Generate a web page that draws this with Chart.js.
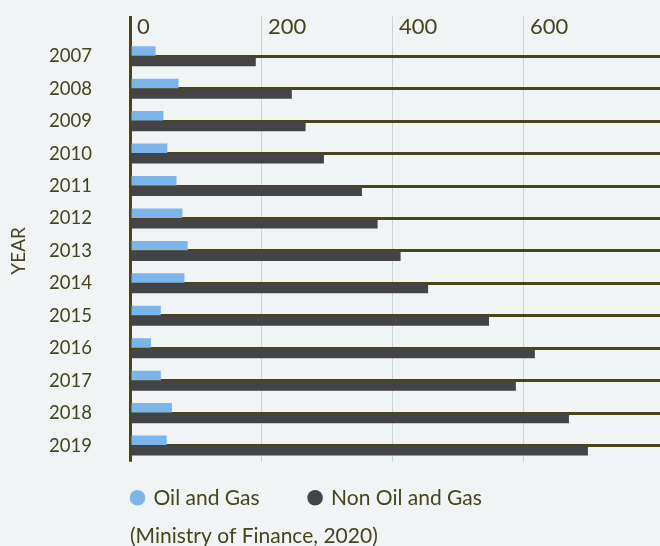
<!DOCTYPE html>
<html>
<head>
<meta charset="utf-8">
<script src="https://cdn.jsdelivr.net/npm/chart.js@4"></script>
<style>
  html, body { margin: 0; padding: 0; background: #f0f4f5; overflow: hidden; }
  #wrap { position: relative; width: 660px; height: 549px; }
</style>
</head>
<body>
<div id="wrap"><canvas id="exportChart"></canvas></div>
<script>
// ============================================================
// DATA
// ============================================================
const years      = ['2007','2008','2009','2010','2011','2012','2013','2014','2015','2016','2017','2018','2019'];
const oilGas     = [39, 74, 51, 57, 71, 80, 88, 83, 47, 32, 47, 64, 56];
const nonOilGas  = [192, 247, 268, 296, 354, 378, 413, 455, 548, 618, 589, 670, 699];
const xTicks     = [0, 200, 400, 600];

const OLIVE   = '#4a4518';
const TEXT    = '#47431f';
const GRID    = '#c7d2db';
const FONT    = 'Lato';

// legend sits under the plot, starting at the axis line
const LEGEND_PAD = 50;
const LEGEND_FS  = 21;
const legendShift = {
  id: 'legendShift',
  afterLayout(chart) {
    const lg = chart.legend;
    if (!lg) return;
    const x0 = chart.chartArea.left + 2 - LEGEND_PAD;
    const y0 = chart.chartArea.bottom + 36 - LEGEND_FS / 2 - LEGEND_PAD;
    lg.left = x0; lg.right = x0 + lg.width;
    lg.top = y0;  lg.bottom = y0 + lg.height + 40;
  }
};

const ctx = document.getElementById('exportChart');
new Chart(ctx, {
  type: 'bar',
  data: {
    labels: years,
    datasets: [
      {
        label: 'Oil and Gas',
        data: oilGas,
        backgroundColor: '#7cb5ec',
        borderWidth: 0,
        categoryPercentage: 0.65,
        barPercentage: 0.9,
      },
      {
        label: 'Non Oil and Gas',
        data: nonOilGas,
        backgroundColor: '#434348',
        borderWidth: 0,
        categoryPercentage: 0.65,
        barPercentage: 0.9,
      },
    ]
  },
  options: {
    indexAxis: 'y',
    responsive: true,
    maintainAspectRatio: false,
    animation: false,
    layout: { padding: { top: 16, left: 0, right: 0, bottom: 0 } },
    plugins: {
      tooltip: { enabled: false },
      legend: {
        position: 'bottom',
        align: 'start',
        fullSize: false,
        maxHeight: 62,
        labels: {
          usePointStyle: true,
          pointStyle: 'circle',
          boxWidth: 11, boxHeight: 11,
          padding: LEGEND_PAD,
          color: TEXT,
          font: { family: FONT, size: LEGEND_FS },
        }
      },
      subtitle: {
        display: true,
        text: '(Ministry of Finance, 2020)',
        position: 'bottom',
        align: 'start',
        fullSize: false,
        color: TEXT,
        font: { family: FONT, size: 21, weight: 'normal' },
        padding: { top: 0, bottom: 0 },
      }
    },
    scales: {
      x: {
        position: 'top',
        min: 0,
        max: 809,
        afterBuildTicks: s => { s.ticks = xTicks.map(v => ({ value: v })); },
        afterFit: s => { s.height = 24; },
        grid: {
          color: c => (c.tick && c.tick.value === 0) ? OLIVE : GRID,
          tickColor: c => (c.tick && c.tick.value === 0) ? OLIVE : GRID,
          lineWidth: c => (c.tick && c.tick.value === 0) ? 3 : 1,
          tickWidth: c => (c.tick && c.tick.value === 0) ? 3 : 1,
          drawTicks: true,
          tickLength: 24,
        },
        border: { display: false },
        ticks: {
          align: 'start',
          labelOffset: 7,
          padding: -24,
          maxRotation: 0,
          color: TEXT,
          font: { family: FONT, size: 22 },
        }
      },
      y: {
        afterFit: s => { s.width = 130; s.paddingTop = 0; s.paddingBottom = 0; },
        grid: {
          offset: false,
          color: OLIVE,
          lineWidth: 3,
          drawTicks: false,
        },
        border: { display: false },
        ticks: {
          padding: 38,
          color: TEXT,
          font: { family: FONT, size: 18.5 },
        },
        title: {
          display: true,
          text: 'YEAR',
          color: TEXT,
          font: { family: FONT, size: 19 },
          padding: { top: 7, bottom: 0 },
        }
      }
    }
  },
  plugins: [legendShift]
});
</script>
</body>
</html>
